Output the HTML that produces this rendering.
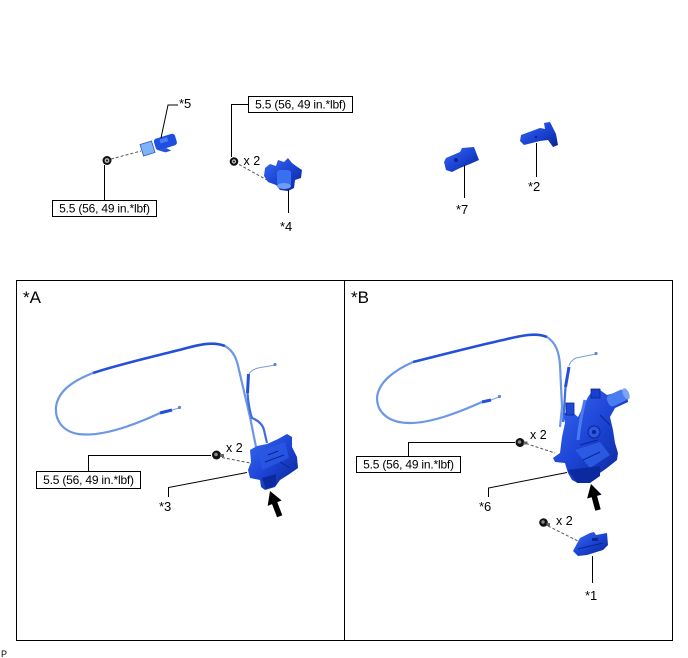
<!DOCTYPE html>
<html><head><meta charset="utf-8"><style>
html,body{margin:0;padding:0;background:#fff;}
svg{display:block;}
text{font-family:"Liberation Sans",Arial,sans-serif;fill:#000;}
</style></head><body>
<svg width="688" height="658" viewBox="0 0 688 658" xmlns="http://www.w3.org/2000/svg">
<defs>
<linearGradient id="gb" x1="0" y1="0" x2="1" y2="1">
<stop offset="0" stop-color="#3a6cf0"/><stop offset="0.5" stop-color="#1c44d6"/><stop offset="1" stop-color="#0a2590"/>
</linearGradient>
</defs>
<rect width="688" height="658" fill="#fff"/>

<!-- ========== TOP ROW ========== -->
<g transform="translate(159,145) rotate(-17)">
<rect x="-18" y="-6" width="12" height="12" fill="#7fb2f6" stroke="#2b56c8" stroke-width="0.8"/>
<rect x="-4" y="-7" width="22" height="12" rx="3" fill="#1f4fe0"/>
<rect x="2" y="-5" width="8" height="4" fill="#4a7cf0"/>
<path d="M-2,5 L6,5 L10,9 L4,9 Z" fill="#2453d8"/>
</g>
<path d="M178,105 H168 L161,138" fill="none" stroke="#000" stroke-width="1"/>
<line x1="111" y1="159" x2="141" y2="151" stroke="#555" stroke-width="1" stroke-dasharray="3,2"/>
<circle cx="107" cy="160.5" r="4.5" fill="#111"/>
<circle cx="107" cy="160.5" r="2.4" fill="#bbb"/>
<circle cx="107" cy="160.5" r="1" fill="#111"/>
<line x1="104.5" y1="165" x2="104.5" y2="200" stroke="#000" stroke-width="1"/>
<rect x="52.5" y="200.5" width="104" height="16" fill="#fff" stroke="#000" stroke-width="1"/>
<text x="104.5" y="212.5" font-size="12" text-anchor="middle" letter-spacing="-0.2">5.5 (56, 49 in.*lbf)</text>
<text x="179" y="108" font-size="13">*5</text>

<rect x="248.5" y="96.5" width="104" height="16" fill="#fff" stroke="#000" stroke-width="1"/>
<text x="300.5" y="108.5" font-size="12" text-anchor="middle" letter-spacing="-0.2">5.5 (56, 49 in.*lbf)</text>
<path d="M248,104.5 H231.5 V157" fill="none" stroke="#000" stroke-width="1"/>
<circle cx="234" cy="161.5" r="4.3" fill="#111"/>
<circle cx="234" cy="161.5" r="2.2" fill="#bbb"/>
<circle cx="234" cy="161.5" r="0.9" fill="#111"/>
<text x="243.5" y="165" font-size="12.5">x 2</text>
<line x1="239" y1="164.5" x2="267" y2="180" stroke="#555" stroke-width="1" stroke-dasharray="3,2"/>
<polygon points="265,168 270,164 276,166 278,160 284,162 288,158 292,163 296,166 302,170 301,178 295,180 294,188 288,191 280,190 276,185 268,182 264,176" fill="url(#gb)"/>
<rect x="277" y="170" width="14" height="16" rx="3" fill="#3a6ff0"/>
<ellipse cx="284" cy="186" rx="7" ry="3" fill="#6f9cf4"/>
<line x1="288.5" y1="190" x2="288.5" y2="213" stroke="#000" stroke-width="1"/>
<text x="280" y="231" font-size="13">*4</text>

<polygon points="446,158 460,152 462,148 474,147 479,160 470,164 460,168 452,172 446,170 444,162" fill="url(#gb)"/>
<circle cx="456" cy="160" r="2" fill="#0a2590"/>
<line x1="464.5" y1="165" x2="464.5" y2="198" stroke="#000" stroke-width="1"/>
<text x="456" y="214" font-size="13">*7</text>

<polygon points="521,135 540,128 545,129 544,123 550,122 556,134 558,145 553,147 548,140 540,141 524,145 520,141" fill="url(#gb)"/>
<circle cx="536" cy="137" r="1.3" fill="#0a2590"/>
<line x1="536.5" y1="143" x2="536.5" y2="177" stroke="#000" stroke-width="1"/>
<text x="528" y="191" font-size="13">*2</text>

<!-- ========== FRAMES ========== -->
<rect x="16.5" y="280.5" width="656" height="360" fill="none" stroke="#000" stroke-width="1"/>
<line x1="344.5" y1="280" x2="344.5" y2="641" stroke="#000" stroke-width="1"/>
<text x="23" y="303" font-size="17">*A</text>
<text x="351" y="303" font-size="17">*B</text>
<text x="1" y="657" font-size="9">P</text>

<!-- ========== PANEL A ========== -->
<path d="M160,413 C130,427 100,437 78,434 C62,431 55,420 56,407 C58,390 75,380 93,373" fill="none" stroke="#6b97e6" stroke-width="2.2"/>
<path d="M93,373 C120,364 160,355 183,349 C198,345 212,341 225,346" fill="none" stroke="#2350d8" stroke-width="2.6"/>
<path d="M225,346 C234,351 237,360 239,370 L250,417 L256,447" fill="none" stroke="#6b97e6" stroke-width="2.2"/>
<line x1="160" y1="413" x2="172" y2="410" stroke="#2350d8" stroke-width="3"/>
<line x1="172" y1="410" x2="179" y2="408" stroke="#7a9ce0" stroke-width="1"/>
<circle cx="179.5" cy="407.5" r="1.6" fill="#5a86e0"/>
<path d="M275,365 L258,368 Q251,370 249,374" fill="none" stroke="#7a9ce0" stroke-width="1"/>
<circle cx="275" cy="364.5" r="1.6" fill="#5a86e0"/>
<line x1="248.5" y1="374" x2="247.5" y2="393" stroke="#2350d8" stroke-width="3"/>
<path d="M247.5,393 Q249,410 252,418 Q262,422 264,430 L267,443" fill="none" stroke="#3e6de0" stroke-width="2.2"/>
<polygon points="250,450 257,446 267,444 278,439 287,434 292,437 292,447 297,457 298,468 288,475 280,480 275,487 265,490 261,487 260,480 250,478 248,470 251,462" fill="url(#gb)"/>
<path d="M258,452 L285,442 L289,458 L262,470 Z" fill="#2a58e4" opacity="0.8"/>
<path d="M268,455 L278,451 M265,462 L284,455 M280,462 L290,468" stroke="#0a2590" stroke-width="1" fill="none"/>
<polygon points="262,478 276,474 276,485 266,489" fill="#0b2aa0"/>
<line x1="222" y1="457.5" x2="250" y2="463" stroke="#555" stroke-width="1" stroke-dasharray="3,2"/>
<circle cx="216.5" cy="455" r="4.5" fill="#111"/>
<circle cx="216" cy="454.5" r="1.8" fill="#888"/>
<rect x="220" y="454" width="4" height="3" fill="#666"/>
<text x="226" y="452" font-size="12.5">x 2</text>
<path d="M211,455.5 H88.5 V471.5" fill="none" stroke="#000" stroke-width="1"/>
<rect x="36.5" y="471.5" width="104" height="17" fill="#fff" stroke="#000" stroke-width="1"/>
<text x="88.5" y="484" font-size="12" text-anchor="middle" letter-spacing="-0.2">5.5 (56, 49 in.*lbf)</text>
<path d="M247,472.5 L168.5,487.5 V497" fill="none" stroke="#000" stroke-width="1"/>
<text x="159" y="511" font-size="13">*3</text>
<g transform="translate(270,491) rotate(-21)">
<polygon points="0,0 -7.5,13 -2.8,13 -2.8,27 2.8,27 2.8,13 7.5,13" fill="#000"/>
</g>

<!-- ========== PANEL B ========== -->
<path d="M482,402 C455,414 430,423 410,423 C388,423 377,412 377,398 C378,382 395,370 413,362" fill="none" stroke="#6b97e6" stroke-width="2.2"/>
<path d="M413,362 C445,354 480,345 503,340 C520,336 535,332 547,337" fill="none" stroke="#2350d8" stroke-width="2.6"/>
<path d="M547,337 C556,343 559,352 560,365 L562,407 L560,427" fill="none" stroke="#6b97e6" stroke-width="2.2"/>
<line x1="482" y1="402" x2="491" y2="400" stroke="#2350d8" stroke-width="3"/>
<line x1="491" y1="400" x2="499" y2="397" stroke="#7a9ce0" stroke-width="1"/>
<circle cx="499.5" cy="396.5" r="1.6" fill="#5a86e0"/>
<path d="M596,354 L576,358 Q570,361 569,366" fill="none" stroke="#7a9ce0" stroke-width="1"/>
<circle cx="596" cy="353.5" r="1.6" fill="#5a86e0"/>
<line x1="569" y1="367" x2="565.5" y2="387" stroke="#2350d8" stroke-width="3"/>
<path d="M565.5,387 L564,410 L563,422" fill="none" stroke="#3e6de0" stroke-width="2.2"/>
<polygon points="563,413 572,412 578,417 588,397 593,390 600,390 607,395 618,392 627,393 628,402 615,408 610,417 613,430 615,443 618,453 617,460 607,468 597,475 590,482 578,483 572,480 568,473 565,463 555,462 553,458 560,453 562,437 565,423" fill="url(#gb)"/>
<g transform="translate(617,398) rotate(-25)">
<rect x="-10" y="-6" width="20" height="12" rx="4" fill="#4a7cf0"/>
<ellipse cx="10" cy="0" rx="3" ry="6" fill="#7aa6f6"/>
</g>
<rect x="591" y="389" width="9" height="9" fill="#1a3ed0" stroke="#0a2590" stroke-width="0.8"/>
<path d="M585,400 Q580,420 578,440" stroke="#4a7cf0" stroke-width="3" fill="none"/>
<circle cx="594" cy="432" r="6" fill="#2a58e4" stroke="#0a2590" stroke-width="1"/>
<circle cx="594" cy="432" r="2" fill="#0a2590"/>
<path d="M575,450 L600,442 L610,455 L590,468 Z" fill="#2f60ea" opacity="0.8"/>
<path d="M580,445 L598,440 M583,460 L600,452 M600,415 L610,425" stroke="#0a2590" stroke-width="1" fill="none"/>
<polygon points="568,470 600,466 600,476 590,483 577,483" fill="#0b2aa0"/>
<rect x="566" y="403" width="8" height="12" fill="#2048d4" stroke="#0a2590" stroke-width="0.8"/>
<line x1="526" y1="443.5" x2="555" y2="453" stroke="#555" stroke-width="1" stroke-dasharray="3,2"/>
<circle cx="520" cy="442.5" r="4.5" fill="#111"/>
<circle cx="519.5" cy="442" r="1.8" fill="#888"/>
<rect x="523.5" y="441.5" width="4" height="3" fill="#666"/>
<text x="530" y="439" font-size="12.5">x 2</text>
<path d="M515,442.5 H408.5 V456.5" fill="none" stroke="#000" stroke-width="1"/>
<rect x="356.5" y="456.5" width="104" height="16" fill="#fff" stroke="#000" stroke-width="1"/>
<text x="408.5" y="468.5" font-size="12" text-anchor="middle" letter-spacing="-0.2">5.5 (56, 49 in.*lbf)</text>
<path d="M567,472.5 L488.5,488 V497" fill="none" stroke="#000" stroke-width="1"/>
<text x="479" y="511" font-size="13">*6</text>
<g transform="translate(591,484) rotate(-15)">
<polygon points="0,0 -7.5,13 -2.8,13 -2.8,27 2.8,27 2.8,13 7.5,13" fill="#000"/>
</g>
<line x1="548" y1="526" x2="578" y2="541" stroke="#555" stroke-width="1" stroke-dasharray="3,2"/>
<circle cx="543.5" cy="522.5" r="4.3" fill="#111"/>
<circle cx="543" cy="522" r="1.7" fill="#888"/>
<rect x="546.5" y="523" width="3.5" height="3" fill="#666"/>
<text x="556" y="525" font-size="12.5">x 2</text>
<polygon points="573,551 580,538 590,533 594,532 596,535 607,533 608,545 603,550 587,555 578,556" fill="url(#gb)"/>
<path d="M578,549 L603,543" stroke="#0a2590" stroke-width="1"/>
<rect x="592" y="538" width="6" height="3" fill="#0a2590"/>
<line x1="592.5" y1="556" x2="592.5" y2="583" stroke="#000" stroke-width="1"/>
<text x="585" y="600" font-size="13">*1</text>
</svg>
</body></html>
